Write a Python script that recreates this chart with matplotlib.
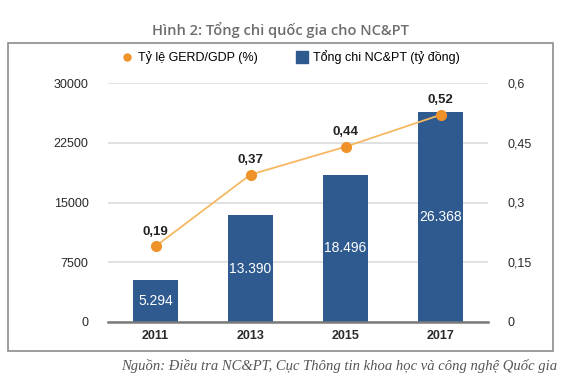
import matplotlib
matplotlib.use("Agg")
import matplotlib.pyplot as plt
from matplotlib.patches import Rectangle
from matplotlib.lines import Line2D

years = ["2011", "2013", "2015", "2017"]
spending = [5294, 13390, 18496, 26368]
spending_labels = ["5.294", "13.390", "18.496", "26.368"]
gerd = [0.19, 0.37, 0.44, 0.52]
gerd_labels = ["0,19", "0,37", "0,44", "0,52"]
left_ticks = [0, 7500, 15000, 22500, 30000]
right_ticks = [0, 0.15, 0.3, 0.45, 0.6]
right_tick_labels = ["0", "0,15", "0,3", "0,45", "0,6"]

bar_color = "#2f5a8f"
dot_color = "#f0922a"
line_color = "#f6b862"

plt.rcParams["font.family"] = ["Liberation Sans", "DejaVu Sans"]

W, H = 570, 386
fig = plt.figure(figsize=(W / 100, H / 100), dpi=100)

def fx(px):
    return px / W

def fy(py):
    return 1 - py / H

# frame around chart
fig.patches.append(Rectangle((fx(8), fy(351)), fx(553) - fx(8), fy(43) - fy(351),
                             transform=fig.transFigure, fill=False,
                             edgecolor="#8c8c8c", linewidth=1.2))

fig.text(fx(280), fy(30), "Hình 2: Tổng chi quốc gia cho NC&PT", ha="center", va="center",
         fontsize=10.5, fontweight="semibold", color="#6d6d6d",
         family=["Open Sans", "DejaVu Sans"])

ax = fig.add_axes([fx(108), fy(322), fx(488) - fx(108), fy(83) - fy(322)])
x = list(range(len(years)))
ax.bar(x, spending, width=0.48, color=bar_color, zorder=2)
for xi, v, lab in zip(x, spending, spending_labels):
    ax.text(xi, v / 2, lab, ha="center", va="center", color="white", fontsize=10, zorder=3)

ax.set_xlim(-0.5, len(years) - 0.5)
ax.set_ylim(0, 30000)
ax.set_yticks(left_ticks)
ax.set_yticklabels([str(t) for t in left_ticks])
ax.set_xticks(x)
ax.set_xticklabels(years, fontweight="bold")
ax.grid(axis="y", color="#dcdcdc", linewidth=1.2, zorder=0)
for s in ["top", "right", "left"]:
    ax.spines[s].set_visible(False)
ax.spines["bottom"].set_color("#7a7a7a")
ax.spines["bottom"].set_linewidth(1.8)
ax.tick_params(axis="both", length=0, labelsize=9, colors="#2a2a2a")
ax.tick_params(axis="y", pad=14)
ax.tick_params(axis="x", pad=6)

ax2 = ax.twinx()
ax2.plot(x, gerd, color=line_color, linewidth=1.3, zorder=3)
ax2.plot(x, gerd, "o", color=dot_color, markersize=7, zorder=4)
for xi, v, lab in zip(x, gerd, gerd_labels):
    ax2.text(xi, v + 0.022, lab, ha="center", va="bottom", fontsize=9.5,
             fontweight="bold", color="#222222")
ax2.set_ylim(0, 0.6)
ax2.set_yticks(right_ticks)
ax2.set_yticklabels(right_tick_labels)
for s in ax2.spines.values():
    s.set_visible(False)
ax2.tick_params(axis="y", length=0, labelsize=9, colors="#2a2a2a", pad=14)

handles = [
    Line2D([], [], marker="o", color=dot_color, linestyle="none", markersize=5),
    Line2D([], [], marker="s", color=bar_color, linestyle="none", markersize=9),
]
fig.legend(handles, ["Tỷ lệ GERD/GDP (%)", "Tổng chi NC&PT (tỷ đồng)"],
           loc="center", bbox_to_anchor=(fx(290), fy(57)), ncol=2, frameon=False,
           fontsize=9, handletextpad=0.4, columnspacing=3.0, handlelength=1.0)

fig.text(fx(557), fy(366), "Nguồn: Điều tra NC&PT, Cục Thông tin khoa học và công nghệ Quốc gia",
         ha="right", va="center", fontsize=10.5, style="italic", color="#555555",
         family=["Liberation Serif", "DejaVu Serif"])

fig.savefig("out.png", dpi=100)
